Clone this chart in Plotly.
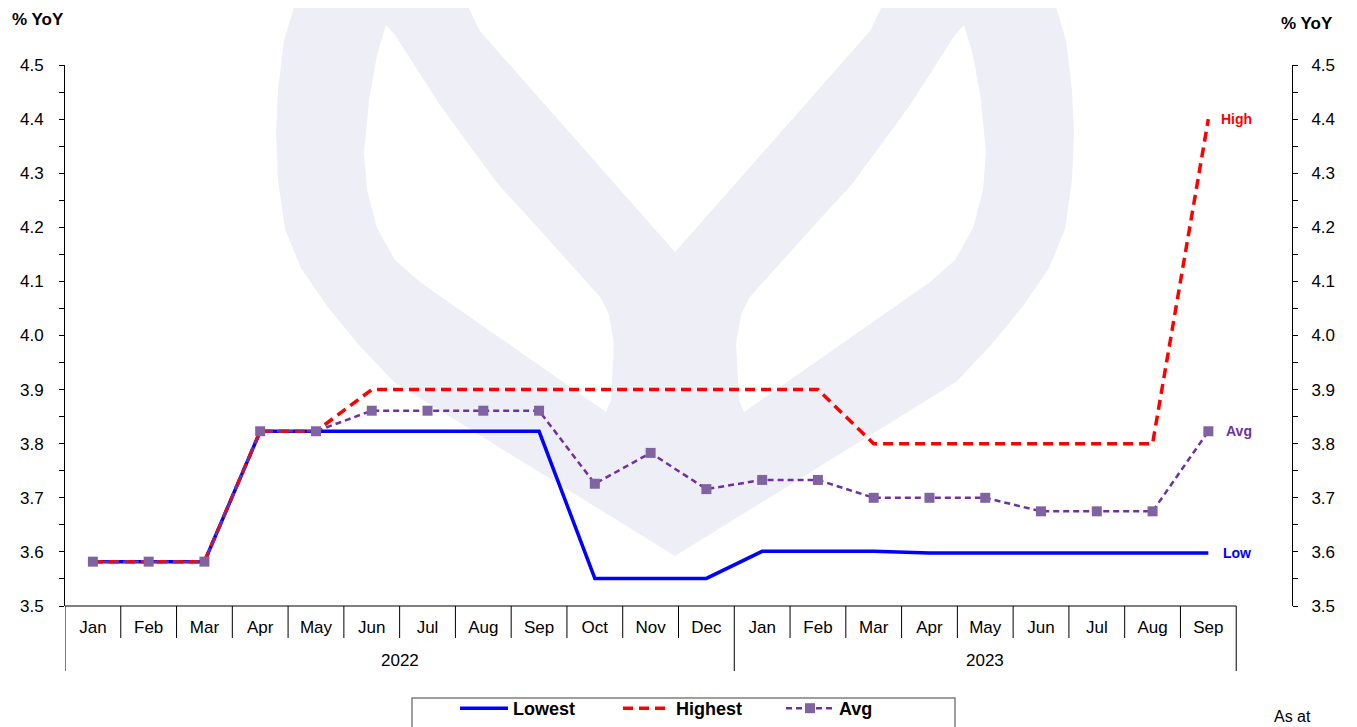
import plotly.graph_objects as go

months = ["Jan", "Feb", "Mar", "Apr", "May", "Jun", "Jul", "Aug", "Sep", "Oct", "Nov", "Dec",
          "Jan", "Feb", "Mar", "Apr", "May", "Jun", "Jul", "Aug", "Sep"]
years = ["2022", "2023"]
year_counts = [12, 9]

lowest = [3.582, 3.582, 3.582, 3.823, 3.823, 3.823, 3.823, 3.823, 3.823, 3.551, 3.551, 3.551,
          3.601, 3.601, 3.601, 3.598, 3.598, 3.598, 3.598, 3.598, 3.598]
highest = [3.582, 3.582, 3.582, 3.823, 3.823, 3.9, 3.9, 3.9, 3.9, 3.9, 3.9, 3.9,
           3.9, 3.9, 3.8, 3.8, 3.8, 3.8, 3.8, 3.8, 4.4]
avg = [3.582, 3.582, 3.582, 3.823, 3.823, 3.861, 3.861, 3.861, 3.861, 3.726, 3.783, 3.716,
       3.733, 3.733, 3.700, 3.700, 3.700, 3.675, 3.675, 3.675, 3.823]

FONT = "Liberation Sans, Arial, sans-serif"
BLUE = "#0000FF"
RED = "#FF0000"
PURPLE = "#7030A0"
MARKER = "#8064A2"

# page has an 8px body margin; figure sized so that it ends at the window edge
OFF = 8
FIG_W, FIG_H = 1357 - OFF, 727 - OFF
# plot area in page pixels
L, R, T, B = 65, 1292, 65, 606
W, H = R - L, B - T


def px(x, y):
    return (x - L) / W, (B - y) / H


def path_from(pts):
    s = ""
    for i, (x, y) in enumerate(pts):
        u, v = px(x, y)
        s += ("M" if i == 0 else "L") + f"{u:.4f},{v:.4f} "
    return s + "Z "


outer = [(296, 0), (284, 40), (278, 90), (276, 134), (278, 180), (285, 229), (301, 268), (327, 306),
         (358, 344), (394, 382), (675, 556), (956, 382), (992, 344), (1023, 306), (1049, 268),
         (1065, 229), (1072, 180), (1074, 134), (1072, 90), (1066, 40), (1054, 0), (885, 0),
         (870, 31), (675, 252), (480, 31), (465, 0)]
leaf = [(386, 25), (377, 55), (369, 100), (364, 153), (367, 190), (377, 228), (395, 260), (420, 282),
        (606, 412), (611, 400), (614, 344), (609, 315), (601, 298), (540, 230), (497, 183),
        (440, 105), (395, 35)]
leaf_r = [(1350 - x, y) for x, y in leaf]
wm_path = path_from(outer) + path_from(leaf) + path_from(leaf_r)

n = len(months)
xs = list(range(n))

fig = go.Figure()
fig.add_trace(go.Scatter(x=xs, y=lowest, name="<b>Lowest</b>", mode="lines",
                         line=dict(color=BLUE, width=3.5)))
fig.add_trace(go.Scatter(x=xs, y=highest, name="<b>Highest</b>", mode="lines",
                         line=dict(color=RED, width=3.5, dash="10px,6px")))
fig.add_trace(go.Scatter(x=xs, y=avg, name="<b>Avg</b>", mode="lines+markers",
                         line=dict(color=PURPLE, width=2.5, dash="6px,4px"),
                         marker=dict(symbol="square", size=10, color=MARKER)))
fig.add_trace(go.Scatter(x=[0], y=[None], yaxis="y2", showlegend=False, hoverinfo="skip",
                         mode="lines"))

shapes = [dict(type="path", path=wm_path, xref="paper", yref="paper", fillcolor="#EEEEF7",
               line=dict(width=0), layer="below", fillrule="evenodd")]
# x axis baseline
shapes.append(dict(type="line", xref="x", yref="paper", x0=-0.5, x1=n - 0.5, y0=0, y1=0,
                   line=dict(color="black", width=1)))
# month separators and year separators
short_y = -(638 - B) / H
long_y = -(671 - B) / H
year_bounds = set()
acc = 0
for c in year_counts:
    acc += c
    year_bounds.add(acc)
for i in range(0, n + 1):
    xb = i - 0.5
    y1 = long_y if (i == 0 or i in year_bounds) else short_y
    shapes.append(dict(type="line", xref="x", yref="paper", x0=xb, x1=xb, y0=0, y1=y1,
                       line=dict(color="black", width=1)))
# legend frame
lx0, ly0 = px(412, 698)
lx1, ly1 = px(955, 745)
shapes.append(dict(type="rect", xref="paper", yref="paper", x0=lx0, x1=lx1, y0=ly1, y1=ly0,
                   line=dict(color="#808080", width=1.5), fillcolor="rgba(0,0,0,0)"))

annotations = []
start = 0
for yr, c in zip(years, year_counts):
    annotations.append(dict(x=start + (c - 1) / 2, y=-(660 - B) / H, xref="x", yref="paper",
                            xanchor="center", yanchor="middle",
                            text=yr, showarrow=False, font=dict(family=FONT, size=17, color="black")))
    start += c
for xp, yp in [(38, 19), (1307, 24)]:
    annotations.append(dict(x=px(xp, 0)[0], y=px(0, yp)[1], xref="paper", yref="paper",
                            xanchor="center", yanchor="middle", text="<b>% YoY</b>",
                            showarrow=False, font=dict(family=FONT, size=17, color="black")))
annotations.append(dict(x=px(1292, 0)[0], y=px(0, 716)[1], xref="paper", yref="paper", text="As at",
                        xanchor="center", yanchor="middle",
                        showarrow=False, font=dict(family=FONT, size=16, color="black")))
for name, series, color, shift in [("High", highest, RED, 11), ("Avg", avg, PURPLE, 16),
                                   ("Low", lowest, BLUE, 13)]:
    annotations.append(dict(x=n - 1, y=series[-1], xref="x", yref="y", text=f"<b>{name}</b>",
                            showarrow=False, xanchor="left", yanchor="middle", xshift=shift,
                            font=dict(family=FONT, size=14, color=color)))

yaxis_common = dict(range=[3.5, 4.5], dtick=0.1, tick0=3.5, tickformat=".1f", showgrid=False,
                    zeroline=False, showline=True, linecolor="black", linewidth=1,
                    ticks="outside", ticklen=5, tickcolor="black",
                    minor=dict(dtick=0.05, ticks="outside", ticklen=5, tickcolor="black"),
                    tickfont=dict(family=FONT, size=17, color="black"))

fig.update_layout(
    width=FIG_W, height=FIG_H,
    margin=dict(l=L - OFF, r=FIG_W - (R - OFF), t=T - OFF, b=FIG_H - (B - OFF)),
    paper_bgcolor="white", plot_bgcolor="rgba(0,0,0,0)",
    xaxis=dict(range=[-0.5, 21.5], tickvals=xs, ticktext=months, showgrid=False, zeroline=False,
               showline=False, ticks="", ticklabelstandoff=9,
               tickfont=dict(family=FONT, size=17, color="black")),
    yaxis=dict(**yaxis_common, ticklabelstandoff=12),
    yaxis2=dict(**yaxis_common, overlaying="y", side="right", ticklabelstandoff=10),
    showlegend=True,
    legend=dict(orientation="h", x=px(455, 0)[0], xanchor="left",
                yref="container", y=(FIG_H - (730 - OFF)) / FIG_H, yanchor="bottom",
                borderwidth=0, bgcolor="rgba(0,0,0,0)",
                font=dict(family=FONT, size=18, color="black"), entrywidth=100, itemwidth=48),
    shapes=shapes,
    annotations=annotations,
)

fig.write_html("out.html")
